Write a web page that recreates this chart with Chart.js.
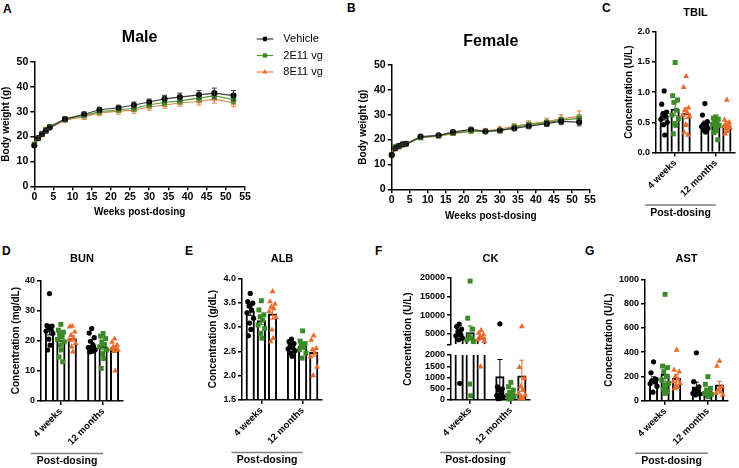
<!DOCTYPE html>
<html>
<head>
<meta charset="utf-8">
<title>Body weight and serum chemistry</title>
<script src="https://cdn.jsdelivr.net/npm/chart.js@4.4.1/dist/chart.umd.min.js"></script>
<style>
  html, body { margin:0; padding:0; background:#ffffff; }
  body { width:739px; height:468px; position:relative; overflow:hidden; font-family:"Liberation Sans", Arial, Helvetica, sans-serif; }
  canvas { position:absolute; }
  .tag { position:absolute; font-weight:bold; font-size:12px; line-height:12px; color:#000; }
</style>
</head>
<body>
<div class="tag" style="left:3px;top:3px">A</div>
<div class="tag" style="left:347px;top:2px">B</div>
<div class="tag" style="left:602px;top:2px">C</div>
<div class="tag" style="left:2px;top:245px">D</div>
<div class="tag" style="left:185px;top:245px">E</div>
<div class="tag" style="left:375px;top:245px">F</div>
<div class="tag" style="left:585px;top:245px">G</div>

<canvas id="chartA" width="340" height="205" style="left:0px;top:20px"></canvas>
<canvas id="chartB" width="255" height="205" style="left:345px;top:20px"></canvas>
<canvas id="chartC" width="139" height="225" style="left:600px;top:0px"></canvas>
<canvas id="chartD" width="135" height="228" style="left:0px;top:240px"></canvas>
<canvas id="chartE" width="135" height="228" style="left:195px;top:240px"></canvas>
<canvas id="chartFtop" width="150" height="228" style="left:390px;top:240px"></canvas>
<canvas id="chartFbottom" width="150" height="228" style="left:390px;top:240px"></canvas>
<canvas id="chartG" width="144" height="228" style="left:595px;top:240px"></canvas>

<script>
// ================= DATA =================
const groupNames = ['Vehicle', '2E11 vg', '8E11 vg'];
const weeks = [0, 1, 2, 3, 4, 8, 13, 17, 22, 26, 30, 34, 38, 43, 47, 52];

const maleVehicle    = [16.4, 19.4, 21.0, 22.3, 23.7, 27.0, 29.0, 30.8, 31.6, 32.7, 33.9, 35.2, 35.9, 36.8, 37.5, 36.5];
const male2E11       = [16.8, 19.2, 21.0, 22.8, 24.0, 27.0, 28.5, 30.0, 30.8, 31.3, 32.8, 33.7, 34.4, 35.5, 36.5, 34.8];
const male8E11       = [17.0, 19.0, 20.6, 22.0, 23.4, 26.6, 28.0, 29.5, 30.2, 30.6, 31.9, 32.7, 33.5, 34.1, 35.1, 33.5];
const maleVehicleSem = [0.6, 0.6, 0.7, 0.7, 0.7, 0.9, 0.9, 1.0, 1.0, 1.2, 1.2, 1.4, 1.6, 1.7, 2.0, 2.0];
const male2E11Sem    = [0.5, 0.5, 0.6, 0.6, 0.6, 0.8, 0.8, 0.9, 1.0, 1.0, 1.1, 1.2, 1.3, 1.4, 1.5, 1.5];
const male8E11Sem    = [0.5, 0.6, 0.7, 0.7, 0.7, 1.0, 1.1, 1.1, 1.2, 1.2, 1.3, 1.3, 1.3, 1.4, 1.6, 1.5];

const femaleVehicle    = [13.8, 16.5, 17.4, 18.1, 18.3, 21.2, 21.7, 23.0, 24.1, 23.3, 23.7, 24.5, 25.4, 26.4, 27.3, 27.0];
const female2E11       = [13.8, 17.1, 17.5, 18.0, 18.3, 20.8, 21.6, 22.6, 23.5, 23.3, 23.6, 25.0, 26.0, 26.8, 27.8, 28.5];
const female8E11       = [14.0, 16.0, 16.8, 17.6, 18.0, 20.9, 21.3, 22.4, 23.3, 23.5, 24.2, 25.3, 26.3, 27.2, 28.3, 29.3];
const femaleVehicleSem = [0.4, 0.4, 0.5, 0.5, 0.5, 0.6, 0.6, 0.7, 0.8, 0.7, 0.8, 0.9, 1.0, 1.1, 1.3, 1.5];
const female2E11Sem    = [0.4, 0.4, 0.4, 0.5, 0.5, 0.5, 0.6, 0.6, 0.7, 0.7, 0.8, 0.9, 1.0, 1.1, 1.2, 1.4];
const female8E11Sem    = [0.4, 0.4, 0.5, 0.5, 0.5, 0.6, 0.6, 0.7, 0.7, 0.8, 0.9, 1.1, 1.2, 1.4, 1.7, 2.2];

const timepoints = ['4 weeks', '12 months'];
// bar order: Vehicle 4w, 2E11 4w, 8E11 4w, Vehicle 12m, 2E11 12m, 8E11 12m
const tbilMean = [0.61, 0.72, 0.65, 0.47, 0.47, 0.46];
const tbilSem  = [0.07, 0.11, 0.09, 0.05, 0.04, 0.05];
const tbilPoints = [
  [1.02, 0.80, 0.67, 0.64, 0.60, 0.55, 0.50, 0.46, 0.29],
  [1.49, 0.94, 0.87, 0.83, 0.70, 0.62, 0.56, 0.48, 0.45, 0.31],
  [1.26, 1.08, 0.74, 0.70, 0.66, 0.62, 0.60, 0.46, 0.45, 0.33, 0.29],
  [0.81, 0.62, 0.51, 0.47, 0.45, 0.43, 0.40, 0.37, 0.34],
  [0.59, 0.57, 0.55, 0.52, 0.50, 0.47, 0.45, 0.42, 0.36, 0.33, 0.21],
  [0.87, 0.54, 0.50, 0.47, 0.45, 0.43, 0.41, 0.39, 0.35, 0.31]
];

const bunMean = [23.6, 20.2, 20.7, 18.5, 18.0, 17.2];
const bunSem  = [1.7, 1.2, 0.9, 0.9, 1.1, 1.0];
const bunPoints = [
  [35.6, 25.0, 24.8, 24.4, 23.8, 23.2, 22.4, 20.5, 18.5, 16.9],
  [25.4, 23.5, 22.8, 22.1, 21.3, 20.4, 19.6, 18.5, 16.9, 14.6, 13.0],
  [24.8, 24.6, 22.9, 21.8, 20.9, 20.2, 19.1, 18.0, 16.3],
  [24.0, 22.5, 21.0, 19.8, 18.5, 17.7, 17.0, 16.8, 16.5, 16.3],
  [22.4, 21.5, 20.7, 19.6, 18.8, 18.0, 16.9, 15.7, 14.1, 10.8],
  [20.6, 19.5, 18.5, 18.0, 17.6, 17.2, 16.9, 16.5, 10.0]
];

const albMean = [3.33, 3.13, 3.27, 2.57, 2.60, 2.48];
const albSem  = [0.09, 0.08, 0.11, 0.04, 0.06, 0.08];
const albPoints = [
  [3.69, 3.52, 3.49, 3.43, 3.35, 3.29, 3.18, 3.08, 2.95, 2.82],
  [3.54, 3.35, 3.25, 3.21, 3.14, 3.04, 2.97, 2.87, 2.77],
  [3.73, 3.52, 3.47, 3.42, 3.38, 3.32, 3.20, 2.94, 2.77, 2.70],
  [2.75, 2.70, 2.66, 2.63, 2.60, 2.55, 2.51, 2.46, 2.40],
  [2.92, 2.71, 2.66, 2.62, 2.58, 2.53, 2.46, 2.36],
  [2.82, 2.73, 2.56, 2.53, 2.46, 2.39, 2.18, 2.00]
];

const ckMean = [4900, 5300, 4000, 1040, 300, 1070];
const ckSem  = [620, 1800, 480, 760, 80, 700];
const ckPoints = [
  [7570, 6950, 6240, 5620, 5000, 4470, 3850, 3400, 740],
  [19100, 9170, 6240, 4470, 3850, 3400, 2960, 710, 190],
  [5890, 5180, 4730, 4290, 3850, 3400, 2960, 1480],
  [7660, 590, 500, 440, 300, 200, 150, 100, 75, 60],
  [785, 590, 440, 340, 250, 190, 150, 100, 75, 40],
  [6950, 1450, 960, 590, 440, 300, 220, 150, 75, 50]
];
const ckBreak = 2000;

const astMean = [172, 220, 185, 115, 78, 130];
const astSem  = [25, 65, 30, 38, 17, 30];
const astPoints = [
  [320, 230, 175, 165, 155, 140, 120, 70],
  [876, 285, 272, 239, 198, 170, 143, 129, 102, 95, 74, 60],
  [418, 253, 239, 198, 178, 157, 143, 129, 110, 100],
  [395, 157, 115, 88, 74, 60, 55, 47],
  [198, 135, 102, 88, 74, 60, 52, 41, 33],
  [327, 285, 115, 88, 74, 60, 47]
];

// ================= STYLE =================
const FONT = '"Liberation Sans", Arial, Helvetica, sans-serif';
Chart.defaults.font.family = FONT;
Chart.defaults.color = '#000';
Chart.defaults.animation = false;
Chart.defaults.events = [];
Chart.defaults.plugins.legend.display = false;
Chart.defaults.plugins.tooltip.enabled = false;

const LINE_COLORS  = ['#3a3a3a', '#4e9a33', '#dc8543'];
const POINT_COLORS = ['#000000', '#3b8a27', '#ec6b2c'];
const STYLES = ['circle', 'rect', 'triangle'];
const LINE_RAD = [3, 3.8, 3.6];
const DOT_RAD = [2.6, 3.5, 3.4];
const GROUP_SHIFT = 0.27;
const JIT = [0, -0.06, 0.06, -0.03, 0.03, -0.08, 0.08, -0.015, 0.015, -0.045, 0.045, 0.0];

// ================= PLUGINS =================
const errorBars = {
  id: 'errorBars',
  afterDatasetDraw(chart, args) {
    const ds = chart.data.datasets[args.index];
    if (!ds.sem) return;
    const meta = args.meta;
    const ys = chart.scales[meta.yAxisID];
    const a = chart.chartArea;
    const ctx = chart.ctx;
    ctx.save();
    ctx.beginPath();
    ctx.rect(a.left, a.top - 1, a.right - a.left, a.bottom - a.top + 1);
    ctx.clip();
    ctx.lineWidth = 1;
    meta.data.forEach((el, i) => {
      const v = ds.data[i].y, s = ds.sem[i];
      const yt = ys.getPixelForValue(v + s), yb = ys.getPixelForValue(v - s);
      const cap = 2.5;
      ctx.strokeStyle = Array.isArray(ds.semColor) ? ds.semColor[i] : ds.semColor;
      ctx.beginPath();
      ctx.moveTo(el.x, yt); ctx.lineTo(el.x, yb);
      ctx.moveTo(el.x - cap, yt); ctx.lineTo(el.x + cap, yt);
      ctx.moveTo(el.x - cap, yb); ctx.lineTo(el.x + cap, yb);
      ctx.stroke();
    });
    ctx.restore();
  }
};

function drawMarker(ctx, style, x, y, r, color) {
  ctx.fillStyle = color;
  ctx.beginPath();
  if (style === 'rect') { const s = r * Math.SQRT1_2; ctx.rect(x - s, y - s, 2 * s, 2 * s); }
  else if (style === 'triangle') { ctx.moveTo(x, y - r); ctx.lineTo(x + r * 0.866, y + r * 0.5); ctx.lineTo(x - r * 0.866, y + r * 0.5); ctx.closePath(); }
  else { ctx.arc(x, y, r, 0, Math.PI * 2); }
  ctx.fill();
}

function sideLegend(x, y0, gap) {
  return {
    id: 'sideLegend',
    afterDraw(chart) {
      const ctx = chart.ctx;
      chart.data.datasets.forEach((ds, i) => {
        const y = y0 + i * gap;
        ctx.save();
        ctx.strokeStyle = ds.borderColor; ctx.lineWidth = 1.2;
        ctx.beginPath(); ctx.moveTo(x, y); ctx.lineTo(x + 16.6, y); ctx.stroke();
        drawMarker(ctx, ds.pointStyle, x + 8.3, y, ds.pointRadius * 0.8, ds.pointBackgroundColor);
        ctx.fillStyle = '#000';
        ctx.font = '11px ' + FONT;
        ctx.textBaseline = 'middle'; ctx.textAlign = 'left';
        ctx.fillText(ds.label, x + 26.6, y);
        ctx.restore();
      });
    }
  };
}

function postDosing(text) {
  return {
    id: 'postDosing',
    afterDraw(chart) {
      const xs = chart.scales.x, a = chart.chartArea, ctx = chart.ctx;
      const x0 = xs.getPixelForValue(0) - 30, x1 = xs.getPixelForValue(1);
      ctx.save();
      ctx.strokeStyle = '#808080'; ctx.lineWidth = 1.5;
      ctx.beginPath(); ctx.moveTo(x0, a.bottom + 52.5); ctx.lineTo(x1, a.bottom + 52.5); ctx.stroke();
      ctx.fillStyle = '#000';
      ctx.font = 'bold 10.5px ' + FONT;
      ctx.textAlign = 'center'; ctx.textBaseline = 'middle';
      ctx.fillText(text, (x0 + x1) / 2, a.bottom + 60.5);
      ctx.restore();
    }
  };
}

function sideTitle(text, cx, cy) {
  return {
    id: 'sideTitle',
    afterDraw(chart) {
      const ctx = chart.ctx;
      ctx.save();
      ctx.translate(cx, cy); ctx.rotate(-Math.PI / 2);
      ctx.font = 'bold 10px ' + FONT;
      ctx.fillStyle = '#000'; ctx.textAlign = 'center'; ctx.textBaseline = 'middle';
      ctx.fillText(text, 0, 0);
      ctx.restore();
    }
  };
}

// ================= SCALES =================
const gridTicks = { display: true, drawOnChartArea: false, drawTicks: true, tickLength: 4, color: '#000', tickColor: '#000', lineWidth: 1.5, tickWidth: 1.5, offset: false };
const axisBorder = { display: true, color: '#000', width: 1.5 };

function yScale(o) {
  const s = {
    type: 'linear', position: 'left', min: o.min, max: o.max, beginAtZero: false,
    ticks: { stepSize: o.step, autoSkip: false, padding: 2, color: '#000', font: { size: o.tickSize || 9, weight: 'bold' }, callback: o.fmt || (v => String(v)) },
    grid: gridTicks,
    border: axisBorder,
    title: { display: !!o.title, text: o.title || '', color: '#000', font: { size: 10, weight: 'bold' }, padding: { top: o.titlePad || 0, bottom: 0 } },
    afterFit: (sc) => { sc.width = o.width; }
  };
  if (o.tickValues) s.afterBuildTicks = (sc) => { sc.ticks = o.tickValues.map(v => ({ value: v })); };
  return s;
}

function xTimepoints(height, display) {
  return {
    type: 'linear', position: 'bottom', min: -0.47, max: 1.47, offset: false, display: display,
    afterBuildTicks: (sc) => { sc.ticks = timepoints.map((t, i) => ({ value: i })); },
    ticks: { autoSkip: false, minRotation: 45, maxRotation: 45, padding: 1, color: '#000', font: { size: 9.5, weight: 'bold' }, callback: (v, i) => timepoints[i] },
    grid: gridTicks,
    border: axisBorder,
    afterFit: (sc) => { sc.height = height; }
  };
}

function xWeeks(height, titlePad) {
  return {
    type: 'linear', position: 'bottom', min: 0, max: 55, offset: false,
    ticks: { stepSize: 5, autoSkip: false, maxRotation: 0, padding: 1, color: '#000', font: { size: 10.5, weight: 'bold' } },
    grid: gridTicks,
    border: axisBorder,
    title: { display: true, text: 'Weeks post-dosing', color: '#000', font: { size: 10, weight: 'bold' }, padding: { top: 0, bottom: titlePad } },
    afterFit: (sc) => { sc.height = height; }
  };
}

// ================= LINE CHARTS =================
function lineDatasets(series, sems) {
  return series.map((vals, g) => ({
    type: 'line', label: groupNames[g],
    data: weeks.map((w, i) => ({ x: w, y: vals[i] })),
    borderColor: LINE_COLORS[g], borderWidth: 1.2, tension: 0,
    pointStyle: STYLES[g], pointRadius: LINE_RAD[g], pointBackgroundColor: POINT_COLORS[g], pointBorderWidth: 0,
    sem: sems[g], semColor: LINE_COLORS[g], clip: false
  }));
}

function lineChart(id, o) {
  const plugins = [errorBars];
  if (o.legend) plugins.push(o.legend);
  return new Chart(document.getElementById(id), {
    type: 'line',
    data: { datasets: lineDatasets(o.series, o.sems) },
    options: {
      responsive: false, maintainAspectRatio: false,
      layout: { padding: { left: 0, right: o.padRight, top: 0, bottom: 0 } },
      plugins: { title: { display: true, text: o.title, fullSize: false, color: '#000', font: { size: 16, weight: 'bold' }, padding: { top: o.titleTop, bottom: o.titleBottom } } },
      scales: {
        x: xWeeks(o.xHeight, o.xTitlePad),
        y: yScale({ min: 0, max: 50, step: 10, tickSize: 10.5, title: 'Body weight (g)', titlePad: o.yTitlePad, width: o.yWidth })
      }
    },
    plugins: plugins
  });
}

lineChart('chartA', {
  title: 'Male', series: [maleVehicle, male2E11, male8E11], sems: [maleVehicleSem, male2E11Sem, male8E11Sem],
  padRight: 95, titleTop: 7.9, titleBottom: 14.9, xHeight: 38.7, xTitlePad: 7, yTitlePad: 0, yWidth: 34.3,
  legend: sideLegend(256.7, 19, 16.5)
});
lineChart('chartB', {
  title: 'Female', series: [femaleVehicle, female2E11, female8E11], sems: [femaleVehicleSem, female2E11Sem, female8E11Sem],
  padRight: 10, titleTop: 12.1, titleBottom: 13.7, xHeight: 35.7, xTitlePad: 2.3, yTitlePad: 12.3, yWidth: 46.7
});

// ================= BAR + DOT CHARTS =================
function barDatasets(means, sems, points, base, keep) {
  const ds = [{
    type: 'bar',
    data: means.map((m, i) => ({ x: Math.floor(i / 3) + (i % 3 - 1) * GROUP_SHIFT, y: m })),
    backgroundColor: '#ffffff', borderColor: '#000000', borderWidth: 2, barThickness: 8.5,
    borderSkipped: 'start', base: base, clip: 0, order: 10,
    sem: sems, semColor: means.map((m, i) => POINT_COLORS[i % 3])
  }];
  for (let g = 0; g < 3; g++) {
    const pts = [];
    for (let t = 0; t < 2; t++) {
      points[t * 3 + g].forEach((v, k) => {
        if (keep(v)) pts.push({ x: t + (g - 1) * GROUP_SHIFT + JIT[k % JIT.length], y: v });
      });
    }
    ds.push({
      type: 'scatter', label: groupNames[g], data: pts,
      pointStyle: STYLES[g], pointRadius: DOT_RAD[g], pointBackgroundColor: POINT_COLORS[g], pointBorderWidth: 0,
      clip: false, order: 1
    });
  }
  return ds;
}

function barChart(id, o) {
  const plugins = [errorBars];
  if (o.xDisplay !== false) plugins.push(postDosing('Post-dosing'));
  if (o.extra) plugins.push(o.extra);
  return new Chart(document.getElementById(id), {
    type: 'bar',
    data: { datasets: barDatasets(o.means, o.sems, o.points, o.min, o.keep || (() => true)) },
    options: {
      responsive: false, maintainAspectRatio: false,
      layout: { padding: { left: 0, right: o.padRight, top: o.padTop || 0, bottom: o.padBottom || 0 } },
      plugins: {
        title: { display: !!o.title, text: o.title || '', fullSize: false, color: '#000', font: { size: 11, weight: 'bold' }, padding: { top: o.titleTop || 0, bottom: o.titleBottom || 0 } }
      },
      scales: {
        x: xTimepoints(o.xHeight || 0, o.xDisplay !== false),
        y: yScale({ min: o.min, max: o.max, step: o.step, fmt: o.fmt, tickValues: o.tickValues, title: o.yTitle, titlePad: o.yTitlePad, width: o.yWidth })
      }
    },
    plugins: plugins
  });
}

const oneDecimal = v => v.toFixed(1);

barChart('chartC', {
  title: 'TBIL', titleTop: 5.9, titleBottom: 12.6, means: tbilMean, sems: tbilSem, points: tbilPoints,
  min: 0, max: 2, step: 0.5, fmt: oneDecimal, yTitle: 'Concentration (U/L)', yTitlePad: 23, yWidth: 56,
  padRight: 1, xHeight: 72.5
});
barChart('chartD', {
  title: 'BUN', titleTop: 11.9, titleBottom: 15.2, means: bunMean, sems: bunSem, points: bunPoints,
  min: 0, max: 40, step: 10, yTitle: 'Concentration (mg/dL)', yTitlePad: 10, yWidth: 41,
  padRight: 12, xHeight: 67
});
barChart('chartE', {
  title: 'ALB', titleTop: 11.9, titleBottom: 13.2, means: albMean, sems: albSem, points: albPoints,
  min: 1.5, max: 4, step: 0.5, fmt: oneDecimal, yTitle: 'Concentration (g/dL)', yTitlePad: 12.5, yWidth: 47,
  padRight: 8, xHeight: 68
});
barChart('chartFtop', {
  title: 'CK', titleTop: 11.9, titleBottom: 12.6, means: ckMean, sems: ckSem, points: ckPoints,
  min: ckBreak, max: 20000, tickValues: [ckBreak, 5000, 10000, 15000, 20000], fmt: v => (v === ckBreak ? '' : String(v)),
  yWidth: 61, padRight: 10, padBottom: 123, xDisplay: false, keep: v => v >= ckBreak
});
barChart('chartFbottom', {
  means: ckMean, sems: ckSem, points: ckPoints,
  min: 0, max: ckBreak, step: 500, yWidth: 61, padRight: 10, padTop: 115, xHeight: 68,
  keep: v => v < ckBreak, extra: sideTitle('Concentration (U/L)', 18, 99)
});
barChart('chartG', {
  title: 'AST', titleTop: 11.9, titleBottom: 14.2, means: astMean, sems: astSem, points: astPoints,
  min: 0, max: 1000, step: 200, yTitle: 'Concentration (U/L)', yTitlePad: 8, yWidth: 50,
  padRight: 11, xHeight: 67.3
});
</script>
</body>
</html>
